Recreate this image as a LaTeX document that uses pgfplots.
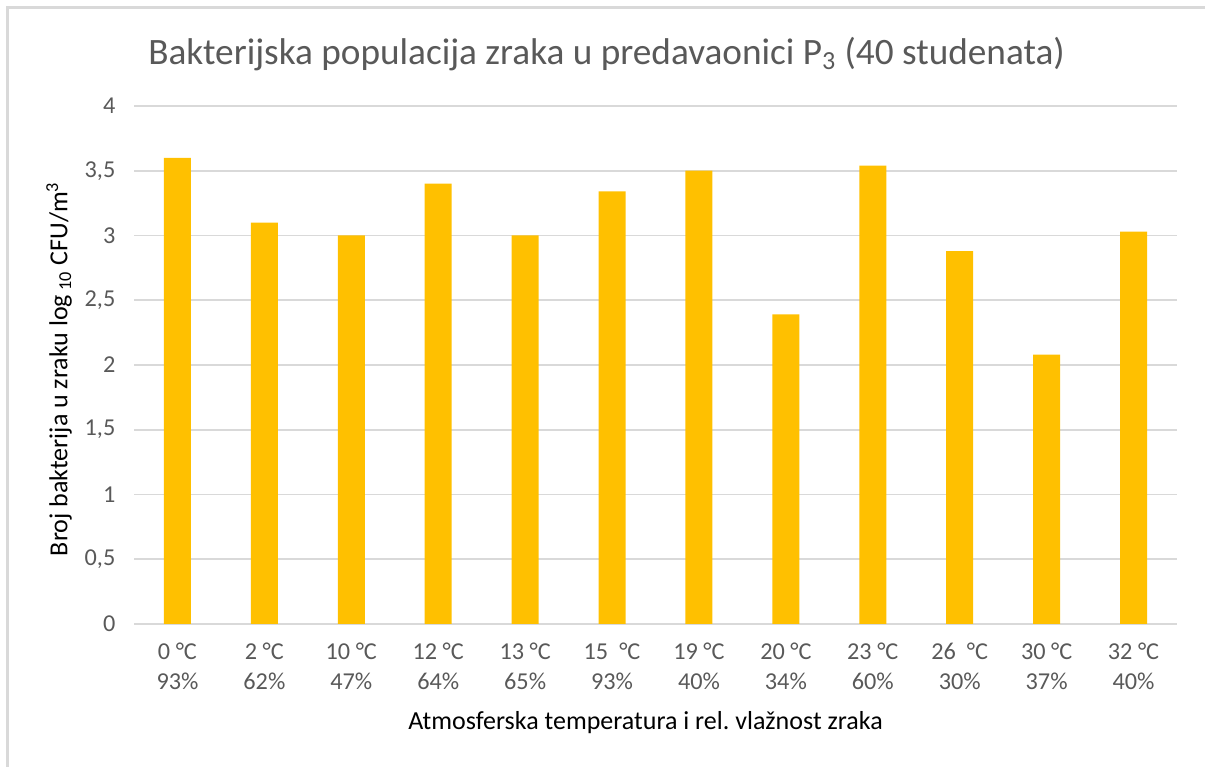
\documentclass[border=0pt]{standalone}
\usepackage{pgfplots}
\pgfplotsset{compat=1.18}
\usepackage{fontspec}
\setmainfont{Carlito}
\definecolor{bargold}{HTML}{FFC000}
\definecolor{gridgray}{HTML}{D9D9D9}
\definecolor{txtgray}{HTML}{595959}

\begin{document}
\begin{tikzpicture}[x=1cm,y=1cm]
  \useasboundingbox (0,0) rectangle (24.1,15.34);
  % outer chart frame (cropped at right and bottom)
  \draw[gridgray, line width=1.2pt] (0.15,0) -- (0.15,15.19) -- (24.1,15.19);

  \begin{axis}[
    at={(2.68cm,2.86cm)}, anchor=south west,
    scale only axis,
    width=20.86cm, height=10.36cm,
    xmin=-0.5, xmax=11.5,
    ymin=0, ymax=4,
    ytick={0,0.5,...,4},
    xtick=data,
    xticklabels={{0 °C\\93\%},{2 °C\\62\%},{10 °C\\47\%},{12 °C\\64\%},
                 {13 °C\\65\%},{15 \ °C\\93\%},{19 °C\\40\%},{20 °C\\34\%},
                 {23 °C\\60\%},{26 \ °C\\30\%},{30 °C\\37\%},{32 °C\\40\%}},
    axis line style={draw=none},
    major tick style={draw=none},
    ymajorgrids,
    major grid style={gridgray, line width=0.9pt},
    /pgf/number format/assume math mode=true,
    /pgf/number format/use comma,
    yticklabel style={font=\fontsize{13.8}{16}\selectfont, text=txtgray, xshift=-0.25cm},
    xticklabel style={font=\fontsize{13.8}{17}\selectfont, text=txtgray, align=center, yshift=-0.25cm},
  ]
    \addplot[ybar, bar width=0.54cm, fill=bargold, draw=none]
      coordinates {
        (0,3.60) (1,3.10) (2,3.00) (3,3.40) (4,3.00) (5,3.34)
        (6,3.50) (7,2.39) (8,3.54) (9,2.88) (10,2.08) (11,3.03)
      };
  \end{axis}

  % title
  \node[text=txtgray, font=\fontsize{21.2}{25}\selectfont] at (12.13,14.26)
    {Bakterijska populacija zraka u predavaonici P\textsubscript{3} (40 studenata)};
  % y label
  \node[rotate=90, font=\fontsize{14.8}{17}\selectfont] at (1.18,7.96)
    {Broj bakterija u zraku log\,\textsubscript{10} CFU/m\textsuperscript{3}};
  % x label
  \node[font=\fontsize{14.8}{17}\selectfont] at (12.91,0.88)
    {Atmosferska temperatura i rel.\ vlažnost zraka};
\end{tikzpicture}
\end{document}
